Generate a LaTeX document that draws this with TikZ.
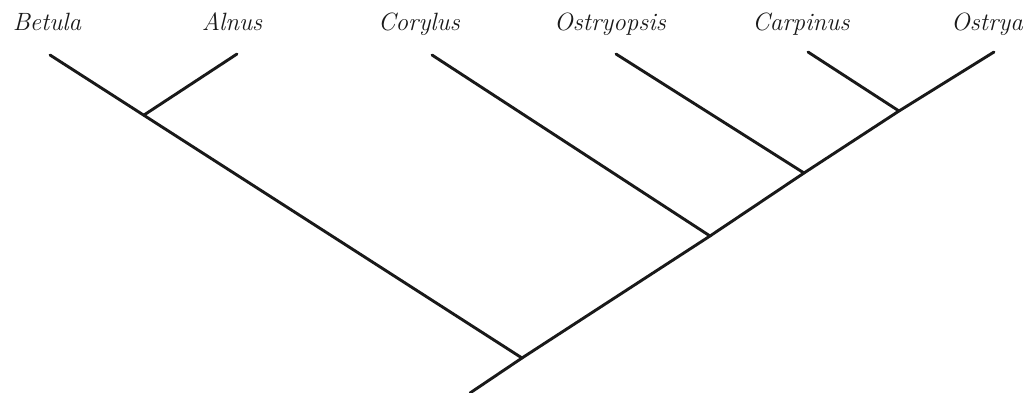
\documentclass[tikz,border=0pt]{standalone}
\begin{document}
\begin{tikzpicture}[x=1pt,y=-1pt,
  branch/.style={line width=2.9pt,draw=black!90,line cap=round},
  taxon/.style={font=\fontsize{25}{28}\selectfont\itshape,inner sep=0pt,anchor=base,text=black!90}]
\useasboundingbox (0,0) rectangle (1031,392);
% labels
\node[taxon] (lbetula) at (47,30) {Betula};
\node[taxon] (lalnus) at (232,30) {Alnus};
\node[taxon] (lcorylus) at (419,30) {Corylus};
\node[taxon] (lostryopsis) at (610,30) {Ostryopsis};
\node[taxon] (lcarpinus) at (801,30) {Carpinus};
\node[taxon] (lostrya) at (987,30) {Ostrya};
% tips
\coordinate (betula) at (50,55);
\coordinate (alnus) at (237,54);
\coordinate (corylus) at (432,55);
\coordinate (ostryopsis) at (616,54);
\coordinate (carpinus) at (808,52);
\coordinate (ostrya) at (994,52);
% internal nodes
\coordinate (ba) at (144,115);
\coordinate (cp) at (899,111);
\coordinate (ocp) at (804,173);
\coordinate (cocp) at (710,236);
\coordinate (root) at (522,358);
\coordinate (base) at (470,393);
% branches
\draw[branch] (betula) -- (root);
\draw[branch] (alnus) -- (ba);
\draw[branch] (corylus) -- (cocp);
\draw[branch] (ostryopsis) -- (ocp);
\draw[branch] (carpinus) -- (cp);
\draw[branch] (ostrya) -- (cp) -- (ocp) -- (cocp) -- (root) -- (base);
\end{tikzpicture}
\end{document}
